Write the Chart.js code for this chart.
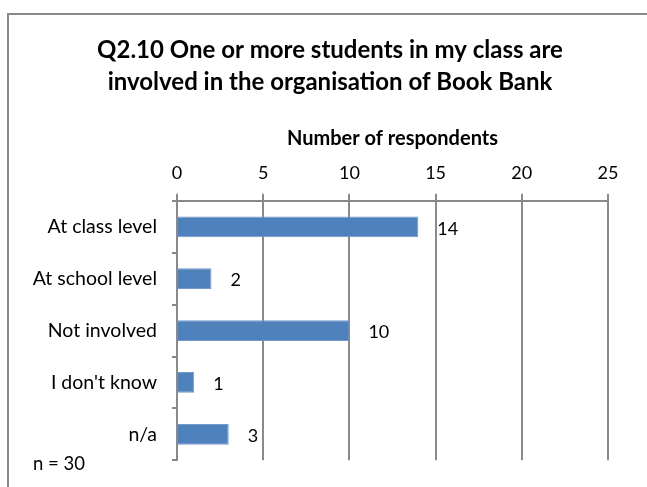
<!DOCTYPE html>
<html>
<head>
<meta charset="utf-8">
<script src="https://cdn.jsdelivr.net/npm/chart.js@4/dist/chart.umd.min.js"></script>
<style>
    body { margin: 0; background: #fff; }
    #marco { position: absolute; left: 0; top: 0; width: 647px; height: 487px; overflow: hidden; }
    #borde { position: absolute; left: 7px; top: 13px; width: 660px; height: 500px; border: 2px solid #8a8a8a; box-sizing: border-box; }
    #grafico { position: absolute; left: 0; top: 0; }
    #nota { position: absolute; left: 33px; top: 452px; font: 18.5px Lato, sans-serif; line-height: 22px; color: #000; }
</style>
</head>
<body>
<div id="marco">
    <div id="borde"></div>
    <canvas id="grafico" width="647" height="487"></canvas>
    <div id="nota">n = 30</div>
</div>
<script>
const categorias = ["At class level", "At school level", "Not involved", "I don't know", "n/a"]
const respuestas = [14, 2, 10, 1, 3]
const marcasEje = [0, 5, 10, 15, 20, 25]

const fuente = "Lato, 'Open Sans', sans-serif"
const gris = "#8a8a8a"

// etiqueta con el valor a la derecha de cada barra
const etiquetasValor = {
    id: "etiquetasValor",
    afterDatasetsDraw(chart) {
        const ctx = chart.ctx
        const meta = chart.getDatasetMeta(0)
        ctx.save()
        ctx.font = "18px " + fuente
        ctx.fillStyle = "#000"
        ctx.textAlign = "left"
        ctx.textBaseline = "middle"
        meta.data.forEach((barra, i) => {
            ctx.fillText(String(respuestas[i]), barra.x + 19, barra.y + 2)
        })
        ctx.restore()
    }
}

// centrar el título sobre el marco y no sobre el área recortada por el padding
const tituloCentrado = {
    id: "tituloCentrado",
    afterLayout(chart) {
        if (chart.titleBlock) {
            chart.titleBlock.left = 13
            chart.titleBlock.right = 647
        }
    }
}

new Chart(document.getElementById("grafico"), {
    type: "bar",
    data: {
        labels: categorias,
        datasets: [{
            data: respuestas,
            backgroundColor: "#4f81bd",
            borderColor: "#7399cb",
            borderWidth: 1,
            barPercentage: 0.4,
            categoryPercentage: 1
        }]
    },
    options: {
        indexAxis: "y",
        responsive: false,
        animation: false,
        layout: { padding: { left: 0, right: 39, top: 0, bottom: 19 } },
        plugins: {
            legend: { display: false },
            tooltip: { enabled: false },
            title: {
                display: true,
                text: ["Q2.10 One or more students in my class are", "involved in the organisation of Book Bank"],
                color: "#000",
                font: { family: fuente, size: 24, weight: "bold", lineHeight: 1.33 },
                padding: { top: 34, bottom: 0 }
            }
        },
        scales: {
            x: {
                position: "top",
                min: 0,
                max: 25,
                afterBuildTicks: (eje) => { eje.ticks = marcasEje.map(v => ({ value: v })) },
                afterFit: (eje) => { eje.height = 103 },
                ticks: { color: "#000", font: { family: fuente, size: 18 }, padding: 10 },
                grid: { color: gris, lineWidth: 2, tickLength: 7 },
                border: { color: gris, width: 2 },
                title: {
                    display: true,
                    text: "Number of respondents",
                    color: "#000",
                    font: { family: fuente, size: 20, weight: "bold", lineHeight: 1.2 },
                    padding: { top: 29, bottom: 0 }
                }
            },
            y: {
                afterFit: (eje) => { eje.width = 177 },
                ticks: { color: "#000", font: { family: fuente, size: 19.5 }, padding: 15 },
                grid: { offset: true, drawOnChartArea: false, color: gris, lineWidth: 2, tickLength: 5 },
                border: { color: gris, width: 2 }
            }
        }
    },
    plugins: [etiquetasValor, tituloCentrado]
})
</script>
</body>
</html>
